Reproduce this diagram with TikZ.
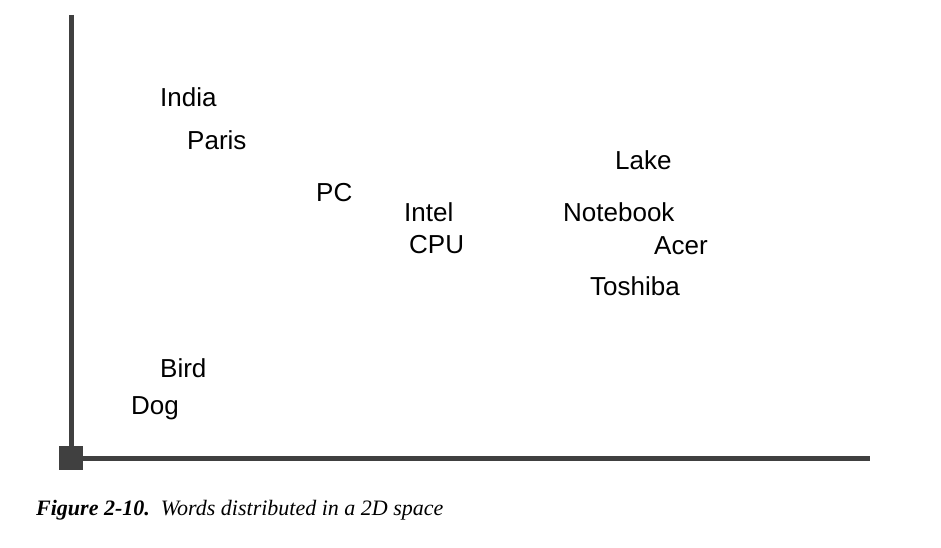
\documentclass[tikz,border=0pt]{standalone}
\usepackage{fontspec}
\setmainfont{Liberation Sans}
\newfontfamily\capfont{Liberation Serif}
\begin{document}
\begin{tikzpicture}[x=1pt,y=-1pt,
  word/.style={anchor=west,inner sep=0pt,font=\fontsize{26}{30}\selectfont},
  axis/.style={line width=5pt,draw=black!75}]
\useasboundingbox (0,0) rectangle (941,548);
\coordinate (top) at (71,15);
\coordinate (corner) at (71,458);
\coordinate (right) at (870,458);
\draw[axis] (top) -- (corner) -- (right);
\fill[black!75] (59,446) rectangle (83,470);
\node[word] (india) at (160,97) {India};
\node[word] (paris) at (187,140) {Paris};
\node[word] (pc) at (316,193) {PC};
\node[word] (intel) at (404,212) {Intel};
\node[word] (cpu) at (409,245) {CPU};
\node[word] (lake) at (615,160) {Lake};
\node[word] (notebook) at (563,212) {Notebook};
\node[word] (acer) at (654,246) {Acer};
\node[word] (toshiba) at (590,286) {Toshiba};
\node[word] (bird) at (160,368) {Bird};
\node[word] (dog) at (131,408) {Dog};
\node[anchor=west,inner sep=0pt,font=\capfont\fontsize{22}{26}\selectfont] (cap) at (36,510) {\textbf{\textit{Figure 2-10.}}\enspace\textit{Words distributed in a 2D space}};
\end{tikzpicture}
\end{document}
